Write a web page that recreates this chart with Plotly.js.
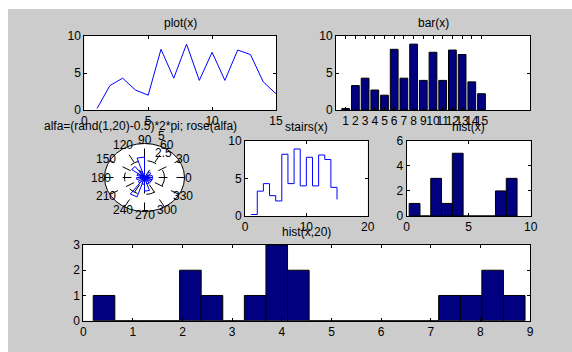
<!DOCTYPE html>
<html><head><meta charset="utf-8">
<script src="https://cdn.plot.ly/plotly-3.0.1.min.js"></script>
<style>html,body{margin:0;padding:0;background:#fff}#chart{width:572px;height:352px}</style>
</head><body><div id="chart"></div>
<script>
// ---- data ----
const xIndex = [1,2,3,4,5,6,7,8,9,10,11,12,13,14,15];
const xValues = [0.2,3.3,4.3,2.7,2.0,8.2,4.3,8.9,4.0,7.8,4.0,8.1,7.5,3.8,2.2];
const barTickLabels = ['1','2','3','4','5','6','7','8','9','10','11','12','13','14','15'];
const hist10Centers = [0.635,1.505,2.375,3.245,4.115,4.985,5.855,6.725,7.595,8.465];
const hist10Counts = [1,0,3,1,5,0,0,0,2,3];
const hist20Centers = [0.4175,0.8525,1.2875,1.7225,2.1575,2.5925,3.0275,3.4625,3.8975,4.3325,
                       4.7675,5.2025,5.6375,6.0725,6.5075,6.9425,7.3775,7.8125,8.2475,8.6825];
const hist20Counts = [1,0,0,0,2,1,0,1,3,2,0,0,0,0,0,0,1,1,2,1];
const roseBinStartDeg = [0,18,36,54,72,90,108,126,144,162,180,198,216,234,252,270,288,306,324,342];
const roseBinWidthDeg = 18;
const roseCounts = [1,0,1,0,0,3,1,2,1,0,1,0,1,3,1,2,1,1,1,1];
const roseAngleLabels = [0,30,60,90,120,150,180,210,240,270,300,330];
const roseRings = [2.5,5];
const titles = ['plot(x)','bar(x)','alfa=(rand(1,20)-0.5)*2*pi; rose(alfa)','stairs(x)','hist(x)','hist(x,20)'];

// ---- style ----
const FONT = 'Liberation Sans, Arial, Helvetica, sans-serif';
const FS = 12;
const W = 572, H = 352;
const px = v => v / W;
const py = v => 1 - v / H;
const NAVY = '#000080';
const BLUE = '#0000ff';

function ax(extra) {
  return Object.assign({
    showline: true, linecolor: 'black', linewidth: 1, mirror: 'ticks',
    ticks: 'inside', ticklen: 3, tickcolor: 'black', tickwidth: 1, tickangle: 0,
    showgrid: false, zeroline: false, fixedrange: true,
    tickfont: {family: FONT, size: FS, color: 'black'}
  }, extra);
}

const rmax = roseRings[roseRings.length - 1];
const d2r = Math.PI / 180;

// rose petals
const petX = [], petY = [];
roseCounts.forEach((n, i) => {
  const a1 = roseBinStartDeg[i] * d2r, a2 = (roseBinStartDeg[i] + roseBinWidthDeg) * d2r;
  petX.push(0, n * Math.cos(a1), n * Math.cos(a2), 0);
  petY.push(0, n * Math.sin(a1), n * Math.sin(a2), 0);
});

const traces = [
  {type: 'scatter', mode: 'lines', x: xIndex, y: xValues, xaxis: 'x', yaxis: 'y',
   line: {color: BLUE, width: 1}},
  {type: 'bar', x: xIndex, y: xValues, xaxis: 'x2', yaxis: 'y2', width: 0.8,
   marker: {color: NAVY, line: {color: 'black', width: 1}}},
  {type: 'scatter', mode: 'lines', x: petX, y: petY, xaxis: 'x3', yaxis: 'y3',
   line: {color: BLUE, width: 1}},
  {type: 'scatter', mode: 'lines', x: xIndex, y: xValues, xaxis: 'x4', yaxis: 'y4',
   line: {color: BLUE, width: 1, shape: 'hv'}},
  {type: 'bar', x: hist10Centers, y: hist10Counts, xaxis: 'x5', yaxis: 'y5', width: 0.87,
   marker: {color: NAVY, line: {color: 'black', width: 1}}},
  {type: 'bar', x: hist20Centers, y: hist20Counts, xaxis: 'x6', yaxis: 'y6', width: 0.435,
   marker: {color: NAVY, line: {color: 'black', width: 1}}}
];

// domains in pixels
const dom = {
  a1: {x: [84.3, 276], y: [36, 110]},
  a2: {x: [336, 530], y: [36, 110]},
  a3: {x: [92.5, 196.5], y: [133.3, 221.7]},
  a4: {x: [245, 367.7], y: [140.7, 216]},
  a5: {x: [406.7, 530.7], y: [140.7, 216]},
  a6: {x: [83.3, 530], y: [245, 320.7]}
};
const dx = k => [px(dom[k].x[0]), px(dom[k].x[1])];
const dy = k => [py(dom[k].y[1]), py(dom[k].y[0])];

const shapes = [
  {type: 'rect', xref: 'paper', yref: 'paper', x0: 0, x1: px(8), y0: 0, y1: 1, fillcolor: 'white', line: {width: 0}, layer: 'below'},
  {type: 'rect', xref: 'paper', yref: 'paper', x0: 0, x1: 1, y0: py(9), y1: 1, fillcolor: 'white', line: {width: 0}, layer: 'below'}
];
['', '2', '4', '5', '6'].forEach(s => {
  shapes.push({type: 'rect', xref: 'x' + s + ' domain', yref: 'y' + s + ' domain',
    x0: 0, x1: 1, y0: 0, y1: 1, fillcolor: 'white', line: {width: 0}, layer: 'below'});
});
shapes.push({type: 'circle', xref: 'x3', yref: 'y3', x0: -rmax, x1: rmax, y0: -rmax, y1: rmax,
  fillcolor: 'white', line: {color: 'black', width: 1}, layer: 'below'});
roseRings.slice(0, -1).forEach(r => {
  shapes.push({type: 'circle', xref: 'x3', yref: 'y3', x0: -r, x1: r, y0: -r, y1: r,
    line: {color: 'black', width: 1, dash: 'dash'}, layer: 'below'});
});
roseAngleLabels.filter(a => a < 180).forEach(a => {
  const c = Math.cos(a * d2r), s = Math.sin(a * d2r);
  shapes.push({type: 'line', xref: 'x3', yref: 'y3', x0: -rmax * c, x1: rmax * c, y0: -rmax * s, y1: rmax * s,
    line: {color: 'black', width: 1, dash: 'dash'}, layer: 'below'});
});

const annotations = [];
const tfont = {family: FONT, size: FS, color: 'black'};
function title(text, xc, yc) {
  annotations.push({text, xref: 'paper', yref: 'paper', x: px(xc), y: py(yc),
    xanchor: 'center', yanchor: 'middle', showarrow: false, font: tfont});
}
title(titles[0], 180, 23);
title(titles[1], 433, 23);
title(titles[2], 140, 126);
title(titles[3], 306, 127);
title(titles[4], 468.7, 127);
title(titles[5], 306.7, 232);

roseAngleLabels.forEach(a => {
  const r = rmax * 1.1;
  annotations.push({text: String(a), xref: 'x3', yref: 'y3', x: r * Math.cos(a * d2r), y: r * Math.sin(a * d2r),
    xanchor: 'center', yanchor: 'middle', showarrow: false, font: tfont});
});
roseRings.forEach(r => {
  const rr = r + 0.05;
  annotations.push({text: String(r), xref: 'x3', yref: 'y3', x: rr * Math.cos(82 * d2r), y: rr * Math.sin(82 * d2r),
    xanchor: 'left', yanchor: 'bottom', xshift: 6, yshift: -2, showarrow: false, font: tfont});
});

const layout = {
  width: W, height: H, margin: {l: 0, r: 0, t: 0, b: 0},
  paper_bgcolor: '#cccccc', plot_bgcolor: 'rgba(0,0,0,0)',
  showlegend: false, font: {family: FONT, size: FS, color: 'black'}, bargap: 0,
  xaxis: ax({domain: dx('a1'), range: [0, 15], tickvals: [0, 5, 10, 15], anchor: 'y'}),
  yaxis: ax({domain: dy('a1'), range: [0, 10], tickvals: [0, 5, 10], anchor: 'x'}),
  xaxis2: ax({domain: dx('a2'), range: [0, 20], tickvals: xIndex, ticktext: barTickLabels, anchor: 'y2'}),
  yaxis2: ax({domain: dy('a2'), range: [0, 10], tickvals: [0, 5, 10], anchor: 'x2'}),
  xaxis3: {domain: dx('a3'), range: [-6.5, 6.5], visible: false, fixedrange: true, anchor: 'y3'},
  yaxis3: {domain: dy('a3'), range: [-6.5, 6.5], visible: false, fixedrange: true, anchor: 'x3'},
  xaxis4: ax({domain: dx('a4'), range: [0, 20], tickvals: [0, 10, 20], anchor: 'y4'}),
  yaxis4: ax({domain: dy('a4'), range: [0, 10], tickvals: [0, 5, 10], anchor: 'x4'}),
  xaxis5: ax({domain: dx('a5'), range: [0, 10], tickvals: [0, 5, 10], anchor: 'y5'}),
  yaxis5: ax({domain: dy('a5'), range: [0, 6], tickvals: [0, 2, 4, 6], anchor: 'x5'}),
  xaxis6: ax({domain: dx('a6'), range: [0, 9], tickvals: [0,1,2,3,4,5,6,7,8,9], anchor: 'y6'}),
  yaxis6: ax({domain: dy('a6'), range: [0, 3], tickvals: [0, 1, 2, 3], anchor: 'x6'}),
  shapes, annotations
};

Plotly.newPlot('chart', traces, layout, {displayModeBar: false, staticPlot: true});
</script></body></html>
